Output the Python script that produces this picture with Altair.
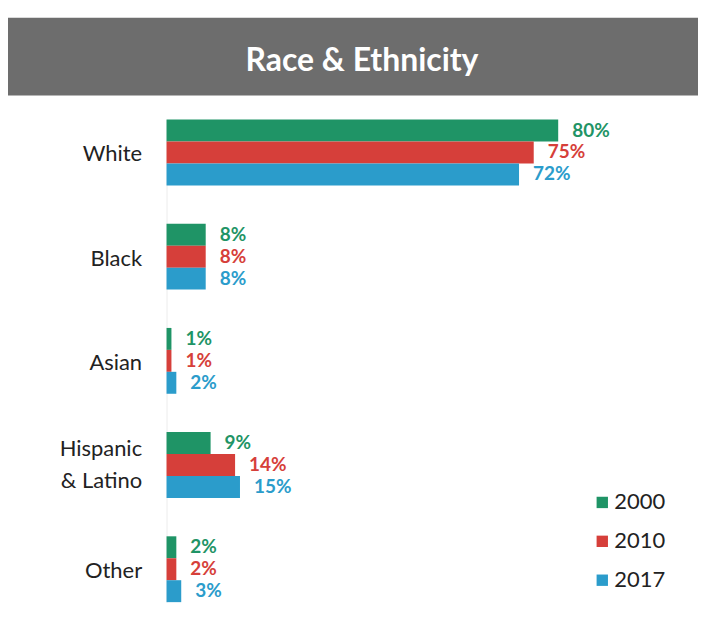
import altair as alt
import pandas as pd

categories = ["White", "Black", "Asian", "Hispanic & Latino", "Other"]
years = ["2000", "2010", "2017"]
v2000 = [80, 8, 1, 9, 2]
v2010 = [75, 8, 1, 14, 2]
v2017 = [72, 8, 2, 15, 3]
colors = ["#1f9466", "#d63f3a", "#2b9ccb"]
title_text = "Race & Ethnicity"

rows = []
for yr, vals in zip(years, [v2000, v2010, v2017]):
    for c, v in zip(categories, vals):
        rows.append({"category": c, "year": yr, "value": v})
df = pd.DataFrame(rows)

FONT = "Lato"

y_enc = alt.Y("category:N", sort=categories, title=None,
              scale=alt.Scale(paddingInner=0.368, paddingOuter=0),
              axis=alt.Axis(ticks=False, labelPadding=25, labelFontSize=22, labelFont=FONT,
                            labelColor="#222222", domainColor="#ececec", labelLineHeight=32,
                            labelOffset={"condition": {"test": "datum.label == 'Hispanic & Latino'", "value": -16}, "value": 2},
                            labelExpr="datum.label == 'Hispanic & Latino' ? ['Hispanic', '& Latino'] : datum.label"))
x_enc = alt.X("value:Q", scale=alt.Scale(domain=[0, 100]), axis=None)
color_enc = alt.Color("year:N", sort=years, scale=alt.Scale(domain=years, range=colors),
                      legend=alt.Legend(title=None, orient="none", legendX=426, legendY=373,
                                        symbolType="square", symbolSize=130, labelFontSize=22,
                                        labelFont=FONT, labelColor="#222222", rowPadding=17,
                                        symbolStrokeWidth=0, labelOffset=1))
yoff = alt.YOffset("year:N", sort=years)

base = alt.Chart(df)
bars = base.mark_bar(size=22).encode(y=y_enc, x=x_enc, color=color_enc, yOffset=yoff)
labels = base.transform_calculate(lbl="datum.value + '%'").mark_text(
    align="left", baseline="middle", dx=14, fontSize=19, fontWeight="bold", font=FONT
).encode(y=y_enc, x=x_enc, color=alt.Color("year:N", sort=years, legend=None), yOffset=yoff, text="lbl:N")

hdr_df = pd.DataFrame({"t": [title_text]})
header = alt.Chart(hdr_df).mark_rect(color="#6d6d6d").encode(
    x=alt.value(-159), x2=alt.value(533), y=alt.value(-102), y2=alt.value(-24))
header_text = alt.Chart(hdr_df).mark_text(
    color="white", fontSize=32, font=FONT, fontWeight="bold", align="center", baseline="middle"
).encode(x=alt.value(196), y=alt.value(-59), text="t:N")

chart = alt.layer(header, header_text, bars, labels).properties(
    width=491, height=484,
    autosize=alt.AutoSizeParams(type="none"),
    padding={"left": 159, "top": 111, "right": 42, "bottom": 6},
    background="white",
).configure_view(stroke=None)

chart.save("out.html", embed_options={"renderer": "svg", "actions": False})
